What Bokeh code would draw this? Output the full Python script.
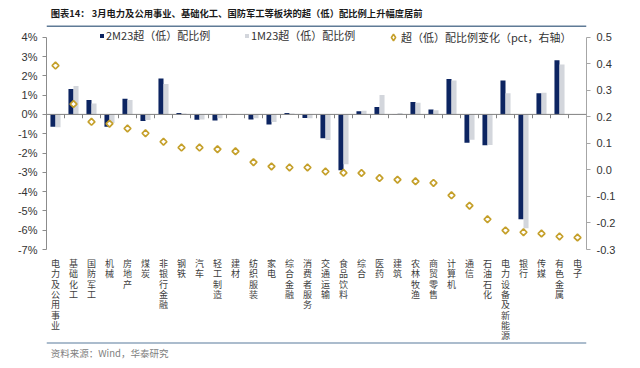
import math
from bokeh.plotting import figure
from bokeh.models import (FactorRange, Range1d, LinearAxis, FixedTicker, PrintfTickFormatter,
                          NumeralTickFormatter, Span, Legend, LegendItem, ColumnDataSource)
from bokeh.transform import dodge
from bokeh.layouts import column
from bokeh.core.properties import value
from bokeh.embed import file_html
from bokeh.resources import INLINE

# ---------------- data ----------------
categories = ["电力及公用事业", "基础化工", "国防军工", "机械", "房地产", "煤炭", "非银行金融",
              "钢铁", "汽车", "轻工制造", "建材", "纺织服装", "家电", "综合金融", "消费者服务",
              "交通运输", "食品饮料", "综合", "医药", "建筑", "农林牧渔", "商贸零售", "计算机",
              "通信", "石油石化", "电力设备及新能源", "银行", "传媒", "有色金属", "电子"]
ratio_2m23 = [-0.64, 1.31, 0.74, -0.64, 0.81, -0.34, 1.86, 0.07, -0.28, -0.31, 0.01, -0.26,
              -0.52, 0.07, -0.19, -1.24, -2.90, 0.16, 0.38, 0.01, 0.64, 0.26, 1.83, -1.47,
              -1.60, 1.76, -5.43, 1.10, 2.81, 0.00]
ratio_1m23 = [-0.67, 1.47, 0.57, -0.45, 0.74, -0.29, 1.57, 0.05, -0.26, -0.20, 0.00, -0.20,
              -0.40, 0.05, -0.20, -1.33, -2.58, 0.19, 1.00, 0.07, 0.60, 0.22, 1.76, -1.31,
              -1.59, 1.10, -5.90, 1.12, 2.59, 0.00]
change_pct = [0.393, 0.248, 0.181, 0.174, 0.156, 0.138, 0.106, 0.084, 0.084, 0.078, 0.070,
              0.029, 0.013, 0.009, 0.009, -0.006, -0.011, -0.012, -0.031, -0.037, -0.043,
              -0.049, -0.096, -0.135, -0.186, -0.228, -0.235, -0.240, -0.251, -0.255]
left_ticks = [-7, -6, -5, -4, -3, -2, -1, 0, 1, 2, 3, 4]
right_ticks = [-0.3, -0.2, -0.1, 0.0, 0.1, 0.2, 0.3, 0.4, 0.5]
series_labels = ["2M23超（低）配比例", "1M23超（低）配比例", "超（低）配比例变化（pct，右轴）"]
title_text = "图表14： 3月电力及公用事业、基础化工、国防军工等板块的超（低）配比例上升幅度居前"
source_text = "资料来源：Wind，华泰研究"

# ---------------- style / layout ----------------
NAVY = "#0C2461"
GRAY = "#D3D6DC"
GOLD = "#C5A02B"
CJK = "Noto Sans CJK SC"
LAT = "Liberation Sans"
W = 632
BL, BR = 46, 46                   # frame borders left / right
TOP_H, MAIN_H, LAB_H, FOOT_H = 27, 229, 85, 19
MAIN_BT, MAIN_BB = 1, 7           # main frame borders top / bottom
HEAD = 8.7                        # free pixels above the 4% tick (room for the legend)
CHAR_STEP = 10.3                  # vertical spacing of stacked label characters

frame_h = MAIN_H - MAIN_BT - MAIN_BB
axis_px = frame_h - HEAD
l_lo, l_hi = left_ticks[0], left_ticks[-1]
r_lo, r_hi = right_ticks[0], right_ticks[-1]
l_top = l_hi + HEAD * (l_hi - l_lo) / axis_px
r_top = r_hi + HEAD * (r_hi - r_lo) / axis_px

# ---------------- title strip ----------------
top = figure(width=W, height=TOP_H, x_range=Range1d(0, W), y_range=Range1d(TOP_H, 0),
             x_axis_type=None, y_axis_type=None, toolbar_location=None,
             output_backend="svg", min_border=0, outline_line_color=None)
top.text(x=[5], y=[12.5], text=[title_text], text_font=value(CJK), text_font_style="bold",
         text_font_size="9.3px", text_color="#1a1a1a", text_align="left", text_baseline="middle")
top.add_layout(Span(location=TOP_H - 1.2, dimension="width", line_color="#5F7A96", line_width=1.5))

# ---------------- main chart ----------------
src = ColumnDataSource(dict(cat=categories, m2=ratio_2m23, m1=ratio_1m23, chg=change_pct))

p = figure(width=W, height=MAIN_H, x_range=FactorRange(factors=categories, range_padding=0),
           y_range=Range1d(l_lo, l_top), toolbar_location=None,
           output_backend="svg", min_border_left=BL, min_border_right=BR,
           min_border_top=MAIN_BT, min_border_bottom=MAIN_BB, outline_line_color=None)
p.extra_y_ranges = {"chg": Range1d(r_lo, r_top)}
p.xgrid.visible = False
p.ygrid.visible = False
p.xaxis.visible = False

r_m2 = p.vbar(x=dodge("cat", -0.14, range=p.x_range), top="m2", bottom=0, width=0.28,
              source=src, fill_color=NAVY, line_color=None)
r_m1 = p.vbar(x=dodge("cat", 0.14, range=p.x_range), top="m1", bottom=0, width=0.28,
              source=src, fill_color=GRAY, line_color=None)

p.add_layout(Span(location=0, dimension="width", line_color="#808080", line_width=1))
bounds = list(range(1, len(categories)))
p.segment(x0=bounds, y0=[0] * len(bounds), x1=bounds, y1=[-0.2] * len(bounds),
          line_color="#808080", line_width=1)

# legend-only stand-in: zero-size in the plot, legend draws it at its own size
r_chg_leg = p.scatter(x="cat", y="chg", y_range_name="chg", source=src, marker="diamond",
                      size=0, fill_color="white", line_color=GOLD, line_width=1.6)
r_chg = p.scatter(x="cat", y="chg", y_range_name="chg", source=src, marker="square",
                  angle=math.pi / 4, size=4.8, fill_color="white", line_color=GOLD,
                  line_width=1.7)

# left axis
ya = p.yaxis[0]
ya.ticker = FixedTicker(ticks=left_ticks)
ya.formatter = PrintfTickFormatter(format="%d%%")
ya.bounds = (l_lo, l_hi)
ya.minor_tick_line_color = None
ya.major_tick_in = 0
ya.major_tick_out = 4
ya.axis_line_color = "#8c8c8c"
ya.major_tick_line_color = "#8c8c8c"
ya.major_label_text_font = LAT
ya.major_label_text_font_size = "11px"
ya.major_label_text_color = "#333333"
ya.major_label_standoff = 5

# right axis
ra = LinearAxis(y_range_name="chg", ticker=FixedTicker(ticks=right_ticks),
                formatter=NumeralTickFormatter(format="0.0"), bounds=(r_lo, r_hi))
ra.minor_tick_line_color = None
ra.major_tick_in = 0
ra.major_tick_out = 4
ra.axis_line_color = "#a6a6a6"
ra.major_tick_line_color = "#a6a6a6"
ra.major_label_text_font = LAT
ra.major_label_text_font_size = "11px"
ra.major_label_text_color = "#333333"
ra.major_label_standoff = 6
p.add_layout(ra, "right")

# legends (three separate, positioned inside the frame head room)
def make_legend(label, rend, loc, gw, gh, standoff):
    lg = Legend(items=[LegendItem(label=label, renderers=[rend])], location=loc,
                orientation="horizontal", glyph_width=gw, glyph_height=gh,
                label_standoff=standoff, padding=0, margin=0, spacing=0,
                border_line_color=None, background_fill_alpha=0, label_height=12,
                label_width=10, label_text_font=CJK, label_text_font_size="11px",
                label_text_color="#333333")
    p.add_layout(lg, "center")

LEG_Y = 206
make_legend(series_labels[0], r_m2, (53, LEG_Y), 5, 5, 2)
make_legend(series_labels[1], r_m1, (198, LEG_Y), 5, 5, 2)
make_legend(series_labels[2], r_chg_leg, (339, LEG_Y - 2), 16, 16, 0)

# ---------------- category label strip (stacked characters) ----------------
lab = figure(width=W, height=LAB_H, x_range=p.x_range, y_range=Range1d(LAB_H, 0),
             x_axis_type=None, y_axis_type=None, toolbar_location=None,
             output_backend="svg", min_border_left=BL, min_border_right=BR,
             min_border_top=0, min_border_bottom=0, outline_line_color=None)
lab.xgrid.visible = False
lab.ygrid.visible = False
lab_x, lab_y, lab_t = [], [], []
for c in categories:
    for j, ch in enumerate(c):
        lab_x.append(c)
        lab_y.append(7 + CHAR_STEP * j)
        lab_t.append(ch)
lab.text(x=lab_x, y=lab_y, text=lab_t, text_font=value(CJK), text_font_size="9px",
         text_color="#404040", text_align="center", text_baseline="middle")

# ---------------- footer ----------------
foot = figure(width=W, height=FOOT_H, x_range=Range1d(0, W), y_range=Range1d(FOOT_H, 0),
              x_axis_type=None, y_axis_type=None, toolbar_location=None,
              output_backend="svg", min_border=0, outline_line_color=None)
foot.add_layout(Span(location=1.5, dimension="width", line_color="#8FA6BC", line_width=1.5))
foot.text(x=[5], y=[11.5], text=[source_text], text_font=value(CJK), text_font_size="9.5px",
          text_color="#808080", text_align="left", text_baseline="middle")

layout = column(top, p, lab, foot, spacing=0)
open("out.html", "w").write(file_html(layout, INLINE))
